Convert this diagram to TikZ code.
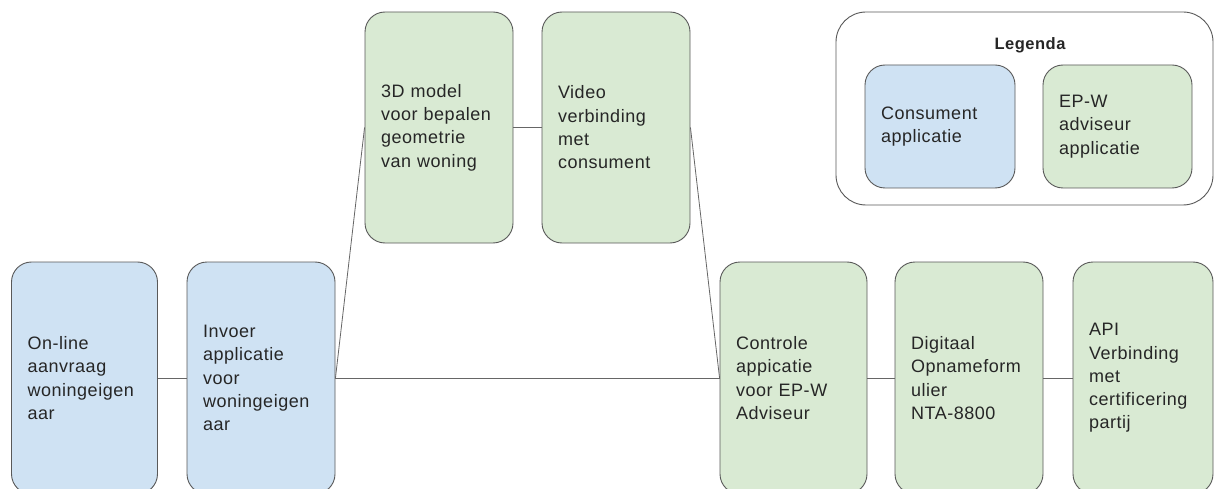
\documentclass[tikz,border=0pt]{standalone}
\usepackage{fontspec}
\setmainfont{Liberation Sans}[LetterSpace=3]
\definecolor{blueFill}{HTML}{CFE2F3}
\definecolor{greenFill}{HTML}{D9EAD3}
\definecolor{borderCol}{HTML}{595959}
\definecolor{lineCol}{HTML}{666666}
\tikzset{
  appbox/.style={rounded corners=20pt, draw=borderCol, line width=0.9pt,
    inner xsep=16pt, inner ysep=0pt, align=left, anchor=center,
    font=\fontsize{18}{23.3}\selectfont, text=black!85},
  consbox/.style={appbox, fill=blueFill},
  advbox/.style={appbox, fill=greenFill},
  conn/.style={draw=lineCol, line width=0.8pt}
}
\begin{document}
\begin{tikzpicture}[x=1pt,y=-1pt]
\clip (0,0) rectangle (1215,489);
\fill[white] (0,0) rectangle (1215,489);
% legend frame
\draw[borderCol, line width=0.9pt, rounded corners=30pt, fill=white] (836,12) rectangle (1213,205);
\node[font=\fontsize{16.5}{19}\selectfont\bfseries, text=black!85] (legtitle) at (1030,45) {Legenda};
\node[consbox, text width=118pt, minimum height=123pt] (lc) at (940,126.5) {Consument\\applicatie};
\node[advbox, text width=117pt, minimum height=123pt] (la) at (1117.5,126.5) {EP-W\\adviseur\\applicatie};
% process boxes
\node[consbox, text width=114pt, minimum height=232pt] (b1) at (84.5,378) {On-line\\aanvraag\\woningeigen\\aar};
\node[consbox, text width=116pt, minimum height=232pt] (b2) at (261,378) {Invoer\\applicatie\\voor\\woningeigen\\aar};
\node[advbox, text width=116pt, minimum height=231pt] (b3) at (439,127.5) {3D model\\voor bepalen\\geometrie\\van woning};
\node[advbox, text width=116pt, minimum height=231pt] (b4) at (616,127.5) {Video\\verbinding\\met\\consument};
\node[advbox, text width=115pt, minimum height=232pt] (b5) at (793.5,378) {Controle\\appicatie\\voor EP-W\\Adviseur};
\node[advbox, text width=116pt, minimum height=232pt] (b6) at (969,378) {Digitaal\\Opnameform\\ulier\\NTA-8800};
\node[advbox, text width=108pt, minimum height=232pt] (b7) at (1143,378) {API\\Verbinding\\met\\certificering\\partij};
% connectors
\draw[conn] (b1.east) -- (b2.west);
\draw[conn] (b2.east) -- (b5.west);
\draw[conn] (b2.east) -- (b3.west);
\draw[conn] (b3.east) -- (b4.west);
\draw[conn] (b4.east) -- (b5.west);
\draw[conn] (b5.east) -- (b6.west);
\draw[conn] (b6.east) -- (b7.west);
\end{tikzpicture}
\end{document}
